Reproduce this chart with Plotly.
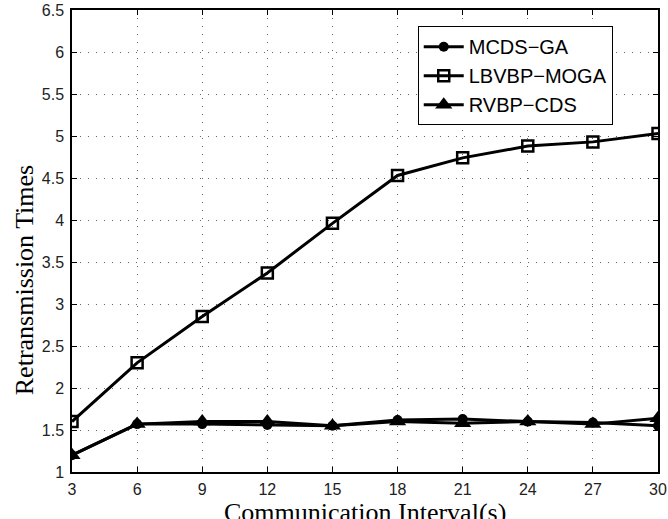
import plotly.graph_objects as go

x_vals = [3, 6, 9, 12, 15, 18, 21, 24, 27, 30]
mcds_ga = [1.2, 1.57, 1.57, 1.56, 1.55, 1.62, 1.63, 1.60, 1.59, 1.55]
lbvbp_moga = [1.6, 2.30, 2.85, 3.37, 3.96, 4.53, 4.74, 4.88, 4.93, 5.03]
rvbp_cds = [1.2, 1.57, 1.60, 1.60, 1.55, 1.60, 1.58, 1.60, 1.57, 1.64]
y_ticks = [1, 1.5, 2, 2.5, 3, 3.5, 4, 4.5, 5, 5.5, 6, 6.5]
y_tick_text = ["1", "1.5", "2", "2.5", "3", "3.5", "4", "4.5", "5", "5.5", "6", "6.5"]
x_title = "Communication Interval(s)"
y_title = "Retransmission Times"

fig = go.Figure()
fig.add_trace(go.Scatter(x=x_vals, y=mcds_ga, name="MCDS\u2212GA", mode="lines+markers",
                         line=dict(color="black", width=3),
                         marker=dict(symbol="circle", size=10, color="black")))
fig.add_trace(go.Scatter(x=x_vals, y=lbvbp_moga, name="LBVBP\u2212MOGA", mode="lines+markers",
                         line=dict(color="black", width=3),
                         marker=dict(symbol="square-open", size=11, color="black", line=dict(width=2.5))))
fig.add_trace(go.Scatter(x=x_vals, y=rvbp_cds, name="RVBP\u2212CDS", mode="lines+markers",
                         line=dict(color="black", width=3),
                         marker=dict(symbol="triangle-up", size=15, color="black")))

axis_common = dict(showline=True, linecolor="black", linewidth=1.5, mirror="allticks",
                   ticks="inside", ticklen=5, tickcolor="black",
                   showgrid=True, gridcolor="#666666", griddash="1px,7px", gridwidth=1,
                   zeroline=False, automargin=False,
                   tickfont=dict(family="Liberation Sans, Arial", size=16, color="#222"))

fig.update_xaxes(range=[3, 30], tickvals=x_vals, ticktext=[str(v) for v in x_vals],
                 ticklabelstandoff=2, **axis_common)
fig.update_yaxes(range=[1, 6.5], tickvals=y_ticks, ticktext=y_tick_text,
                 ticklabelstandoff=3, **axis_common)

title_font = dict(family="Liberation Serif, Times New Roman", size=26, color="black")
fig.add_annotation(text=x_title, xref="paper", yref="paper", x=0.5, y=-0.054,
                   xanchor="center", yanchor="top", showarrow=False, borderpad=0,
                   font=title_font)
fig.add_annotation(text=y_title, xref="paper", yref="paper", x=-0.082, y=0.415,
                   xanchor="center", yanchor="middle", textangle=-90, showarrow=False,
                   font=title_font)

fig.update_layout(
    width=668, height=519,
    margin=dict(l=72, r=10, t=10, b=47),
    plot_bgcolor="white", paper_bgcolor="white",
    showlegend=True,
    legend=dict(x=0.59, y=0.965, xanchor="left", yanchor="top",
                bgcolor="white", bordercolor="black", borderwidth=1,
                font=dict(family="Liberation Sans, Arial", size=20, color="black"),
                itemwidth=40, tracegroupgap=0),
)

fig.write_html("out.html")
